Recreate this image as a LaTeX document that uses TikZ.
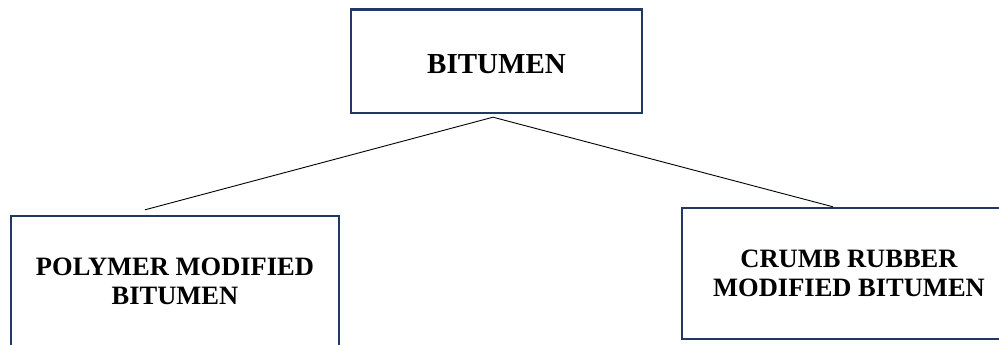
\documentclass[tikz,border=0pt]{standalone}
\usepackage{fontspec}
\setmainfont{Liberation Serif}
\usepackage{tikz}
\usetikzlibrary{positioning}
\definecolor{boxnavy}{RGB}{31,56,100}

\begin{document}
\begin{tikzpicture}[x=1pt,y=-1pt]
                \tikzstyle{every node}+=[inner sep=0pt]
                \tikzstyle{box}=[draw=boxnavy, line width=2.4pt, fill=white, align=center, font=\bfseries]
                \tikzstyle{link}=[black, line width=0.9pt]
                \useasboundingbox (0,0) rectangle (999,345);
                \clip (0,0) rectangle (999,345);
                \node [box, minimum width=291pt, minimum height=103.5pt] (bitumen) at (496.5,61.25) {};
                \node (bitumentext) at (496.5,64) {\fontsize{29}{33}\selectfont\bfseries BITUMEN};
                \node [box, minimum width=328pt, minimum height=131pt, font=\fontsize{26.5}{29}\selectfont\bfseries] (polymer) at (175,281.5) {POLYMER MODIFIED\\BITUMEN};
                \node [box, minimum width=334pt, minimum height=131pt, font=\fontsize{26.5}{29}\selectfont\bfseries] (crumb) at (849,273.5) {CRUMB RUBBER\\MODIFIED BITUMEN};
                \coordinate (fork) at ([xshift=-3.5pt,yshift=-3pt]bitumen.south);
                \coordinate (polyend) at ([xshift=-30pt,yshift=5pt]polymer.north);
                \coordinate (crumbend) at ([xshift=-16pt]crumb.north);
                \draw [link] (fork) -- (polyend);
                \draw [link] (fork) -- (crumbend);
            \end{tikzpicture}
\end{document}
